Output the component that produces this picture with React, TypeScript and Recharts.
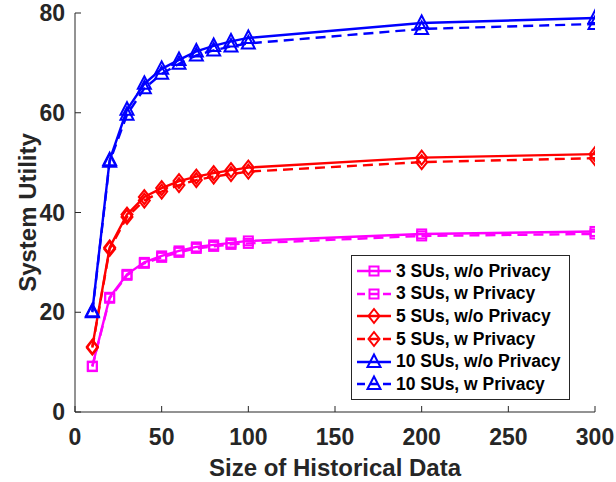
import { LineChart, Line, XAxis, YAxis, Legend } from 'recharts'

// Size of historical data (x)
const historySizes = [10, 20, 30, 40, 50, 60, 70, 80, 90, 100, 200, 300]

// System utility per configuration
const su3NoPrivacy = [9.2, 23.0, 27.6, 30.0, 31.3, 32.3, 33.1, 33.5, 33.9, 34.3, 35.7, 36.2]
const su3Privacy = [9.1, 22.8, 27.4, 29.8, 31.0, 32.0, 32.8, 33.2, 33.6, 33.8, 35.3, 35.7]
const su5NoPrivacy = [13.1, 33.0, 39.6, 43.1, 44.9, 46.3, 47.2, 47.9, 48.5, 49.0, 51.0, 51.7]
const su5Privacy = [12.9, 32.7, 39.1, 42.4, 44.2, 45.5, 46.5, 47.2, 47.7, 48.2, 50.1, 50.9]
const su10NoPrivacy = [20.2, 50.5, 60.6, 65.8, 68.8, 70.6, 72.3, 73.4, 74.3, 75.0, 78.0, 79.0]
const su10Privacy = [20.0, 50.2, 59.6, 64.9, 67.8, 69.8, 71.5, 72.5, 73.3, 73.9, 76.8, 77.8]

const xTicks = [0, 50, 100, 150, 200, 250, 300]
const yTicks = [0, 20, 40, 60, 80]

const data = historySizes.map((x, i) => ({
  x,
  su3wo: su3NoPrivacy[i],
  su3w: su3Privacy[i],
  su5wo: su5NoPrivacy[i],
  su5w: su5Privacy[i],
  su10wo: su10NoPrivacy[i],
  su10w: su10Privacy[i],
}))

type Shape = 'square' | 'diamond' | 'triangle'

const series: { key: string; name: string; color: string; dashed: boolean; shape: Shape }[] = [
  { key: 'su3wo', name: '3 SUs, w/o Privacy', color: '#ff00ff', dashed: false, shape: 'square' },
  { key: 'su3w', name: '3 SUs, w Privacy', color: '#ff00ff', dashed: true, shape: 'square' },
  { key: 'su5wo', name: '5 SUs, w/o Privacy', color: '#ff0000', dashed: false, shape: 'diamond' },
  { key: 'su5w', name: '5 SUs, w Privacy', color: '#ff0000', dashed: true, shape: 'diamond' },
  { key: 'su10wo', name: '10 SUs, w/o Privacy', color: '#0000ff', dashed: false, shape: 'triangle' },
  { key: 'su10w', name: '10 SUs, w Privacy', color: '#0000ff', dashed: true, shape: 'triangle' },
]

const AXIS = '#262626'
const DASH = '10 6'

function Marker({ cx, cy, shape, color }: { cx?: number; cy?: number; shape: Shape; color: string }) {
  if (cx == null || cy == null) return null
  const common = { fill: 'none', stroke: color, strokeWidth: 2, strokeDasharray: 'none' }
  if (shape === 'square') {
    return <rect x={cx - 4.5} y={cy - 4.5} width={9} height={9} {...common} />
  }
  if (shape === 'diamond') {
    return <polygon points={`${cx},${cy - 7} ${cx + 5.5},${cy} ${cx},${cy + 7} ${cx - 5.5},${cy}`} {...common} />
  }
  return <polygon points={`${cx},${cy - 7.5} ${cx + 6.5},${cy + 5} ${cx - 6.5},${cy + 5}`} {...common} />
}

function LegendBox() {
  return (
    <div
      style={{
        border: `1px solid ${AXIS}`,
        background: '#fff',
        width: 217,
        height: 139,
        paddingTop: 4,
        boxSizing: 'content-box',
      }}
    >
      {series.map((s) => (
        <div key={s.key} style={{ display: 'flex', alignItems: 'center', height: 22.6 }}>
          <svg width={44} height={20} style={{ flex: 'none' }}>
            <line
              x1={5}
              x2={39}
              y1={10}
              y2={10}
              stroke={s.color}
              strokeWidth={2.4}
              strokeDasharray={s.dashed ? '8 5' : undefined}
            />
            <Marker cx={22} cy={10} shape={s.shape} color={s.color} />
          </svg>
          <span style={{ fontSize: 17.5, fontWeight: 'bold', color: '#000', whiteSpace: 'nowrap' }}>{s.name}</span>
        </div>
      ))}
    </div>
  )
}

export default function App() {
  const tickStyle = { fontSize: 23, fill: AXIS, fontWeight: 'bold' as const }
  return (
    <div
      style={{
        position: 'absolute',
        left: 0,
        top: 0,
        width: 616,
        height: 482,
        background: '#fff',
        fontFamily: '"Liberation Sans", Arial, sans-serif',
      }}
    >
      <LineChart width={616} height={482} data={data} margin={{ top: 13, right: 21, left: 0, bottom: 0 }}>
        <XAxis
          dataKey="x"
          type="number"
          domain={[0, 300]}
          ticks={xTicks}
          allowDataOverflow
          height={70}
          tickSize={-6}
          tickMargin={23}
          tick={tickStyle}
          axisLine={{ stroke: AXIS }}
          tickLine={{ stroke: AXIS }}
          label={{
            value: 'Size of Historical Data',
            position: 'insideBottom',
            offset: 6,
            style: { fontSize: 24, fontWeight: 'bold', fill: AXIS },
          }}
        />
        <XAxis
          xAxisId="top"
          orientation="top"
          type="number"
          domain={[0, 300]}
          ticks={xTicks}
          height={0}
          tickSize={-6}
          tick={false}
          axisLine={{ stroke: AXIS }}
          tickLine={{ stroke: AXIS }}
        />
        <YAxis
          type="number"
          domain={[0, 80]}
          ticks={yTicks}
          width={75}
          tickSize={-6}
          tickMargin={16}
          tick={tickStyle}
          axisLine={{ stroke: AXIS }}
          tickLine={{ stroke: AXIS }}
          label={{
            value: 'System Utility',
            angle: -90,
            position: 'center',
            dx: -10,
            style: { fontSize: 24, fontWeight: 'bold', fill: AXIS },
          }}
        />
        <YAxis
          yAxisId="right"
          orientation="right"
          type="number"
          domain={[0, 80]}
          ticks={yTicks}
          width={0}
          tickSize={-6}
          tick={false}
          axisLine={{ stroke: AXIS }}
          tickLine={{ stroke: AXIS }}
        />
        {series.map((s) => (
          <Line
            key={s.key}
            dataKey={s.key}
            name={s.name}
            stroke={s.color}
            strokeWidth={2.4}
            strokeDasharray={s.dashed ? DASH : undefined}
            isAnimationActive={false}
            dot={(p: any) => (
              <Marker key={`${s.key}-${p.index}`} cx={p.cx} cy={p.cy} shape={s.shape} color={s.color} />
            )}
            activeDot={false}
          />
        ))}
        <Legend
          layout="horizontal"
          verticalAlign="middle"
          align="center"
          content={() => <LegendBox />}
          wrapperStyle={{ left: 351, top: 255, width: 219, height: 144 }}
        />
      </LineChart>
    </div>
  )
}
